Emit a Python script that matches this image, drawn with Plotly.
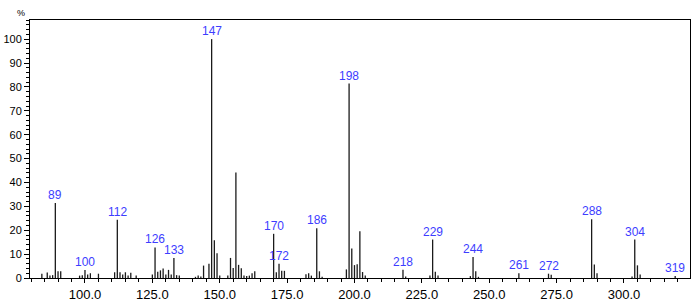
import plotly.graph_objects as go

# m/z values and relative intensities (%)
mz = [84, 86, 87, 88, 89, 90, 91, 98, 99, 100, 101, 102, 105,
      111, 112, 113, 114, 115, 116, 117, 119,
      125, 126, 127, 128, 129, 130, 131, 132, 133, 134, 135,
      141, 142, 143, 144, 146, 147, 148, 149, 150, 153, 154, 155, 156, 157, 158,
      159, 160, 161, 162, 163,
      170, 171, 172, 173, 174, 182, 183, 184, 186, 187, 188,
      197, 198, 199, 200, 201, 202, 203, 204,
      218, 219, 228, 229, 230, 231, 243, 244, 245, 246, 261, 272, 273,
      288, 289, 290, 303, 304, 305, 306, 319]
intensity = [1.8, 2.3, 1.0, 1.2, 31.4, 2.8, 2.8, 1.0, 1.2, 3.4, 1.5, 2.0, 1.8,
             2.4, 24.4, 2.4, 1.5, 2.4, 1.0, 2.2, 1.0,
             1.5, 12.8, 2.6, 3.2, 4.0, 1.5, 3.4, 1.5, 8.4, 1.2, 1.0,
             0.5, 1.0, 0.6, 5.2, 6.0, 100, 15.8, 10.4, 1.0, 1.0, 8.4, 4.2, 44.2, 5.5, 4.1,
             1.0, 0.8, 1.0, 2.0, 2.8,
             18.5, 2.4, 6.0, 3.0, 3.0, 1.6, 2.0, 1.0, 20.8, 2.8, 0.5,
             3.6, 81.4, 12.3, 5.4, 5.8, 19.6, 2.5, 1.0,
             3.5, 0.6, 1.0, 16.1, 2.6, 1.0, 0.8, 8.8, 2.8, 0.5, 2.0, 1.8, 1.4,
             24.6, 5.7, 2.0, 0.6, 16.1, 5.3, 1.5, 0.8]

labeled = [89, 100, 112, 126, 133, 147, 170, 172, 186, 198, 218, 229, 244, 261, 272, 288, 304, 319]

x_ticks = [100, 125, 150, 175, 200, 225, 250, 275, 300]
x_tick_text = ["100.0", "125.0", "150.0", "175.0", "200.0", "225.0", "250.0", "275.0", "300.0"]
y_ticks = [0, 10, 20, 30, 40, 50, 60, 70, 80, 90, 100]

xs, ys = [], []
for m, v in zip(mz, intensity):
    xs += [m, m, None]
    ys += [0, v, None]

fig = go.Figure()
fig.add_trace(go.Scatter(x=xs, y=ys, mode="lines",
                         line=dict(color="#1a1a1a", width=1.3),
                         hoverinfo="skip", showlegend=False))

lookup = dict(zip(mz, intensity))
for m in labeled:
    fig.add_annotation(x=m, y=lookup[m], text=str(m), showarrow=False,
                       yanchor="bottom", yshift=-1,
                       font=dict(family="Liberation Sans", size=12, color="#3d3dff"))

fig.add_annotation(xref="paper", yref="paper", x=-0.004, y=1.0, text="%",
                   showarrow=False, xanchor="right", yanchor="bottom",
                   font=dict(family="Liberation Sans", size=9, color="black"))

fig.update_layout(
    width=700, height=304,
    margin=dict(l=30, r=10, t=20, b=26),
    paper_bgcolor="white", plot_bgcolor="white",
    font=dict(family="Liberation Sans", size=12, color="black"),
    xaxis=dict(range=[79.6, 324.5], tickvals=x_ticks, ticktext=x_tick_text,
               ticks="outside", ticklen=4, tickcolor="black", automargin=False,
               minor=dict(dtick=5, tick0=0, ticks="outside", ticklen=3, tickcolor="black"),
               showline=True, linecolor="black", linewidth=1, mirror=True,
               showgrid=False, zeroline=False, tickfont=dict(size=13)),
    yaxis=dict(range=[0, 108], tickvals=y_ticks,
               ticks="outside", ticklen=5, tickcolor="black", automargin=False,
               minor=dict(dtick=2, tick0=0, ticks="outside", ticklen=3, tickcolor="black"),
               showline=True, linecolor="black", linewidth=1, mirror=True,
               showgrid=False, zeroline=False, tickfont=dict(size=11)),
)

fig.write_html("out.html")
